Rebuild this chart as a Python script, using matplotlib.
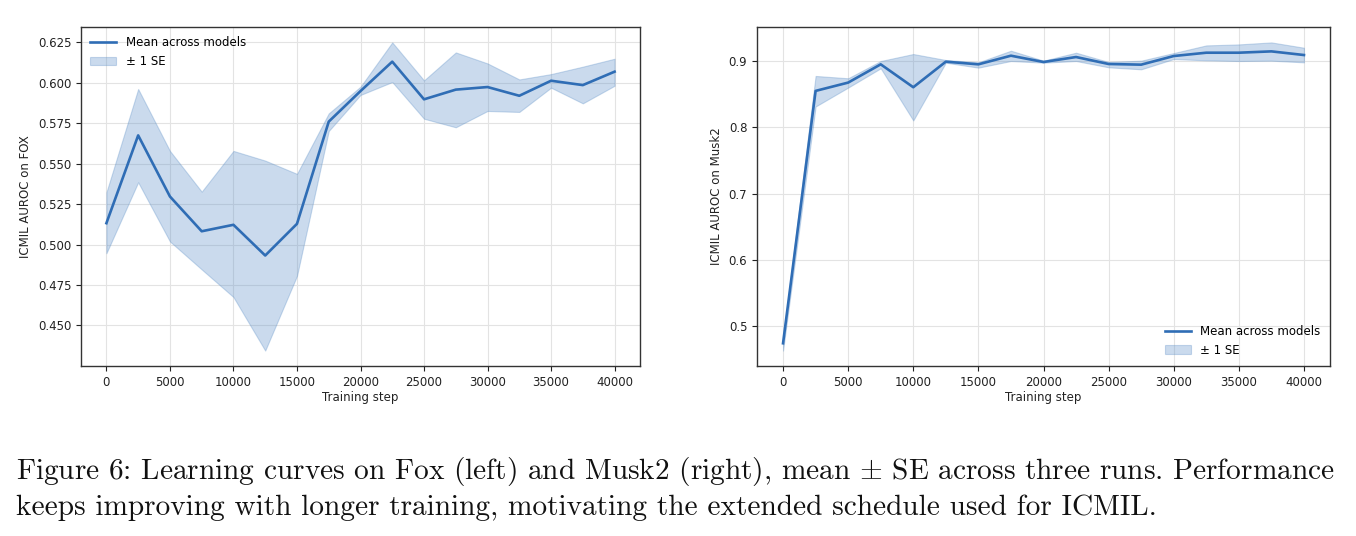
import matplotlib
matplotlib.use("Agg")
import matplotlib.pyplot as plt
import numpy as np

# ---------------- data ----------------
steps = [0, 2500, 5000, 7500, 10000, 12500, 15000, 17500, 20000,
         22500, 25000, 27500, 30000, 32500, 35000, 37500, 40000]

fox_mean = [0.5132, 0.5675, 0.5297, 0.5082, 0.5122, 0.4932, 0.5128, 0.5760, 0.5949,
            0.6131, 0.5898, 0.5958, 0.5974, 0.5920, 0.6013, 0.5986, 0.6069]
fox_upper = [0.5323, 0.5962, 0.5579, 0.5327, 0.5579, 0.5519, 0.5437, 0.5811, 0.5976,
             0.6250, 0.6015, 0.6188, 0.6120, 0.6021, 0.6054, 0.6100, 0.6149]
fox_lower = [0.4946, 0.5385, 0.5019, 0.4846, 0.4675, 0.4344, 0.4806, 0.5702, 0.5925,
             0.6005, 0.5778, 0.5725, 0.5826, 0.5820, 0.5970, 0.5873, 0.5982]

musk_mean = [0.4745, 0.8545, 0.8670, 0.8945, 0.8600, 0.8985, 0.8945, 0.9075, 0.8980,
             0.9055, 0.8950, 0.8940, 0.9070, 0.9120, 0.9120, 0.9140, 0.9085]
musk_upper = [0.4810, 0.8770, 0.8735, 0.8995, 0.9100, 0.9010, 0.8975, 0.9150, 0.9000,
              0.9120, 0.8980, 0.9000, 0.9115, 0.9230, 0.9245, 0.9275, 0.9195]
musk_lower = [0.4635, 0.8310, 0.8595, 0.8885, 0.8100, 0.8970, 0.8895, 0.8995, 0.8970,
              0.8995, 0.8900, 0.8870, 0.9025, 0.9005, 0.8995, 0.9000, 0.8975]

xticks = [0, 5000, 10000, 15000, 20000, 25000, 30000, 35000, 40000]
fox_yticks = [0.450, 0.475, 0.500, 0.525, 0.550, 0.575, 0.600, 0.625]
musk_yticks = [0.5, 0.6, 0.7, 0.8, 0.9]

line_label = "Mean across models"
band_label = "± 1 SE"
caption_1 = r"Figure 6: Learning curves on Fox (left) and Musk2 (right), mean $\pm$ SE across three runs. Performance"
caption_2 = "keeps improving with longer training, motivating the extended schedule used for ICMIL."

# ---------------- style ----------------
LINE_C = "#2f6db5"
FILL_C = "#5b8ec7"
TICK_FS = 8.5

plt.rcParams["font.family"] = ["DejaVu Sans"]
plt.rcParams["mathtext.fontset"] = "cm"

fig = plt.figure(figsize=(13.56, 5.36), dpi=100)
W, H = 1356, 536

def add_ax(x0, x1, y0, y1):
    return fig.add_axes([x0 / W, 1 - y1 / H, (x1 - x0) / W, (y1 - y0) / H])

ax1 = add_ax(81, 640, 27, 366)
ax2 = add_ax(757, 1330, 27, 366)

def draw(ax, mean, lo, hi, yticks, fmt, ylabel, loc):
    ax.fill_between(steps, lo, hi, color=FILL_C, alpha=0.32, linewidth=0.8,
                    edgecolor=FILL_C, label=band_label)
    ax.plot(steps, mean, color=LINE_C, linewidth=1.9, label=line_label)
    ax.set_xticks(xticks)
    ax.set_yticks(yticks)
    ax.set_yticklabels([fmt.format(v) for v in yticks])
    ax.grid(True, color="#e3e3e3", linewidth=0.8)
    ax.set_axisbelow(True)
    ax.tick_params(labelsize=TICK_FS, colors="#222222", length=3.5, width=0.8)
    for s in ax.spines.values():
        s.set_color("#333333")
        s.set_linewidth(1.0)
    ax.set_xlabel("Training step", fontsize=TICK_FS, color="#222222", labelpad=2)
    ax.set_ylabel(ylabel, fontsize=TICK_FS, color="#222222", labelpad=4)
    h, l = ax.get_legend_handles_labels()
    ax.legend([h[1], h[0]], [l[1], l[0]], loc=loc, frameon=False, fontsize=TICK_FS,
              handlelength=2.2, borderaxespad=0.4)

draw(ax1, fox_mean, fox_lower, fox_upper, fox_yticks, "{:.3f}", "ICMIL AUROC on FOX", "upper left")
draw(ax2, musk_mean, musk_lower, musk_upper, musk_yticks, "{:.1f}", "ICMIL AUROC on Musk2", "lower right")

cap_font = ["cmr10", "DejaVu Serif"]
fig.text(16 / W, 1 - 479 / H, caption_1, family=cap_font, fontsize=21.1,
         ha="left", va="baseline", color="#111111")
fig.text(16 / W, 1 - 515 / H, caption_2, family=cap_font, fontsize=21.1,
         ha="left", va="baseline", color="#111111")

fig.savefig("out.png", dpi=100)
